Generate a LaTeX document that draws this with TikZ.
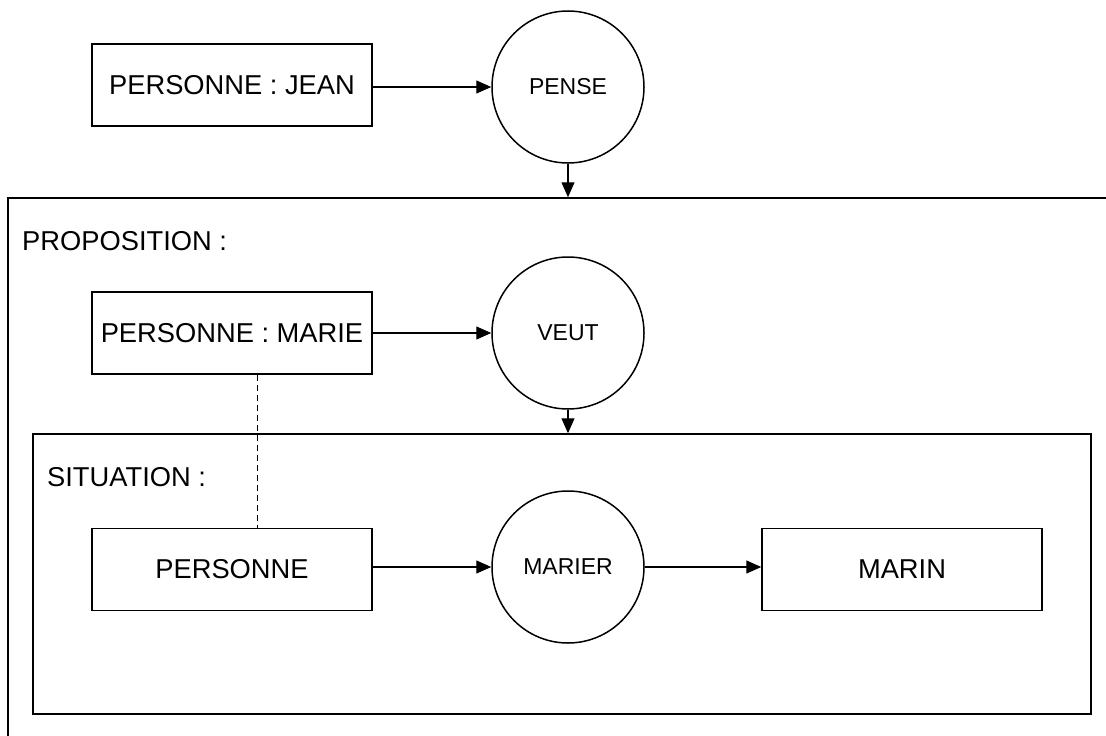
\documentclass[tikz,border=0pt]{standalone}
\usepackage{fontspec}
\setmainfont{Liberation Sans}
\usetikzlibrary{arrows.meta}
\begin{document}
\begin{tikzpicture}[x=1pt,y=-1pt,
  big/.style={font=\fontsize{27.3}{32}\selectfont},
  small/.style={font=\fontsize{23}{27}\selectfont},
  concept/.style={draw,line width=1.5pt,rectangle,minimum width=280pt,minimum height=82pt,inner sep=0pt,big},
  relation/.style={draw,line width=1.5pt,circle,minimum size=152pt,inner sep=0pt,small},
  context/.style={draw,line width=1.5pt,rectangle,inner sep=0pt},
  arr/.style={line width=1.3pt,-{Triangle[length=15pt,width=13pt]}},
  coref/.style={line width=1pt,dash pattern=on 6pt off 4pt}]
\useasboundingbox (0,0) rectangle (1106,736);
\clip (0,0) rectangle (1106,736);
% contexts
\node[context,minimum width=1112pt,minimum height=552pt] (outer) at (564,474) {};
\node[context,minimum width=1058pt,minimum height=280pt] (inner) at (562,574) {};
\node[big,anchor=west,inner sep=0pt] (prop) at (22,241) {PROPOSITION :};
\node[big,anchor=west,inner sep=0pt] (sit) at (47,477) {SITUATION :};
% concepts and relations
\node[concept] (jean) at (232,85) {PERSONNE : JEAN};
\node[relation] (pense) at (568,87) {PENSE};
\node[concept] (marie) at (232,333) {PERSONNE : MARIE};
\node[relation] (veut) at (568,333) {VEUT};
\node[concept] (pers) at (232,569.5) {PERSONNE};
\node[relation] (marier) at (568,567) {MARIER};
\node[concept] (marin) at (902,569.5) {MARIN};
% connectors
\draw[arr] (jean.east |- pense.west) -- (pense.west);
\draw[arr] (pense.south) -- (pense.south |- outer.north);
\draw[arr] (marie.east |- veut.west) -- (veut.west);
\draw[arr] (veut.south) -- (veut.south |- inner.north);
\draw[arr] (pers.east |- marier.west) -- (marier.west);
\draw[arr] (marier.east) -- (marier.east -| marin.west);
\draw[coref] ([xshift=25pt]marie.south) -- ([xshift=25pt]pers.north);
\end{tikzpicture}
\end{document}
